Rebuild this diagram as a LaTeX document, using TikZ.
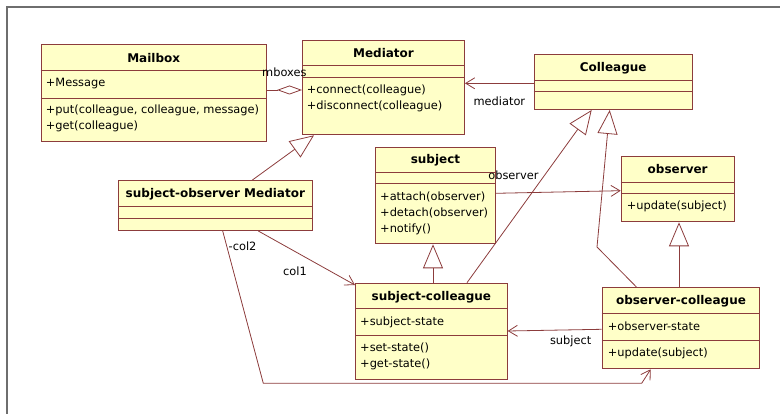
\documentclass[tikz,border=0pt]{standalone}
\usepackage{fontspec}
\setmainfont{DejaVu Sans}
\usetikzlibrary{arrows.meta}
\definecolor{classfill}{HTML}{FFFFC8}
\definecolor{classline}{HTML}{8C3C3C}
\definecolor{framegray}{HTML}{6E6E6E}

\begin{document}
\begin{tikzpicture}[x=1pt, y=-1pt, font=\fontsize{11.4}{16}\selectfont,
  classbox/.style={draw=classline, fill=classfill, line width=1pt, anchor=north west, inner sep=0pt},
  sepline/.style={draw=classline, line width=1pt},
  title/.style={font=\fontsize{12}{16}\selectfont\bfseries, inner sep=0pt, text height=8.8pt, text depth=0pt},
  member/.style={anchor=west, align=left, inner sep=0pt},
  lbl/.style={inner sep=0pt},
  link/.style={draw=classline, line width=0.8pt},
  navig/.style={link, -{Straight Barb[length=9pt, width=11pt]}},
  inherit/.style={link, -{Triangle[open, length=24pt, width=20pt]}},
  aggreg/.style={link, -{Diamond[open, length=25pt, width=9pt]}}]
  \useasboundingbox (0,0) rectangle (780,414);
  \draw[framegray, line width=2pt] (7,414) -- (7,7) -- (780,7);

  % Mailbox
  \node[classbox, minimum width=225pt, minimum height=97pt] (mailbox) at (40.7,44.3) {};
  \draw[sepline] ([yshift=-26.7pt]mailbox.north west) -- ([yshift=-26.7pt]mailbox.north east);
  \draw[sepline] ([yshift=-54pt]mailbox.north west) -- ([yshift=-54pt]mailbox.north east);
  \node[title] (mailbox-name) at ([yshift=-13.4pt]mailbox.north) {Mailbox};
  \node[member] (mailbox-attr) at ([xshift=5pt, yshift=-39.7pt]mailbox.north west) {+Message};
  \node[member] (mailbox-ops) at ([xshift=5pt, yshift=-74.5pt]mailbox.north west) {+put(colleague, colleague, message)\\+get(colleague)};

  % Mediator
  \node[classbox, minimum width=162pt, minimum height=94.3pt] (mediator) at (302,40) {};
  \draw[sepline] ([yshift=-26pt]mediator.north west) -- ([yshift=-26pt]mediator.north east);
  \draw[sepline] ([yshift=-37.3pt]mediator.north west) -- ([yshift=-37.3pt]mediator.north east);
  \node[title] (mediator-name) at ([yshift=-13pt]mediator.north) {Mediator};
  \node[member] (mediator-ops) at ([xshift=4.7pt, yshift=-58pt]mediator.north west) {+connect(colleague)\\+disconnect(colleague)};

  % Colleague
  \node[classbox, minimum width=158pt, minimum height=55pt] (colleague) at (533.7,54) {};
  \draw[sepline] ([yshift=-27pt]colleague.north west) -- ([yshift=-27pt]colleague.north east);
  \draw[sepline] ([yshift=-37.7pt]colleague.north west) -- ([yshift=-37.7pt]colleague.north east);
  \node[title] (colleague-name) at ([yshift=-13pt]colleague.north) {Colleague};

  % subject-observer Mediator
  \node[classbox, minimum width=193.7pt, minimum height=49.7pt] (somed) at (118,180.3) {};
  \draw[sepline] ([yshift=-26.4pt]somed.north west) -- ([yshift=-26.4pt]somed.north east);
  \draw[sepline] ([yshift=-38pt]somed.north west) -- ([yshift=-38pt]somed.north east);
  \node[title] (somed-name) at ([yshift=-12.7pt]somed.north) {subject-observer Mediator};

  % subject
  \node[classbox, minimum width=120pt, minimum height=96.6pt] (subject) at (375,146.7) {};
  \draw[sepline] ([yshift=-26pt]subject.north west) -- ([yshift=-26pt]subject.north east);
  \draw[sepline] ([yshift=-37.3pt]subject.north west) -- ([yshift=-37.3pt]subject.north east);
  \node[title] (subject-name) at ([yshift=-12.6pt]subject.north) {subject};
  \node[member] (subject-ops) at ([xshift=5pt, yshift=-66.6pt]subject.north west) {+attach(observer)\\+detach(observer)\\+notify()};

  % observer
  \node[classbox, minimum width=113pt, minimum height=65.6pt] (observer) at (620.7,155.7) {};
  \draw[sepline] ([yshift=-26.6pt]observer.north west) -- ([yshift=-26.6pt]observer.north east);
  \draw[sepline] ([yshift=-37.6pt]observer.north west) -- ([yshift=-37.6pt]observer.north east);
  \node[title] (observer-name) at ([yshift=-13.3pt]observer.north) {observer};
  \node[member] (observer-ops) at ([xshift=6pt, yshift=-51pt]observer.north west) {+update(subject)};

  % subject-colleague
  \node[classbox, minimum width=151.7pt, minimum height=96.3pt] (subjcol) at (355,282.7) {};
  \draw[sepline] ([yshift=-26.3pt]subjcol.north west) -- ([yshift=-26.3pt]subjcol.north east);
  \draw[sepline] ([yshift=-53pt]subjcol.north west) -- ([yshift=-53pt]subjcol.north east);
  \node[title] (subjcol-name) at ([yshift=-13pt]subjcol.north) {subject-colleague};
  \node[member] (subjcol-attr) at ([xshift=5pt, yshift=-40pt]subjcol.north west) {+subject-state};
  \node[member] (subjcol-ops) at ([xshift=5pt, yshift=-73.6pt]subjcol.north west) {+set-state()\\+get-state()};

  % observer-colleague
  \node[classbox, minimum width=157.6pt, minimum height=81pt] (obscol) at (601.7,287.3) {};
  \draw[sepline] ([yshift=-26pt]obscol.north west) -- ([yshift=-26pt]obscol.north east);
  \draw[sepline] ([yshift=-53pt]obscol.north west) -- ([yshift=-53pt]obscol.north east);
  \node[title] (obscol-name) at ([yshift=-12.7pt]obscol.north) {observer-colleague};
  \node[member] (obscol-attr) at ([xshift=6pt, yshift=-39.4pt]obscol.north west) {+observer-state};
  \node[member] (obscol-ops) at ([xshift=6pt, yshift=-66pt]obscol.north west) {+update(subject)};

  % links
  \draw[aggreg] ([yshift=-45.7pt]mailbox.north east) -- node[lbl, yshift=17.5pt] (mboxes-lbl) {mboxes} ([yshift=-50pt]mediator.north west);
  \draw[inherit] ([xshift=134pt]somed.north west) -- ([xshift=12pt]mediator.south west);
  \draw[navig] ([yshift=-29.3pt]colleague.north west) -- node[lbl, yshift=-17.7pt] (mediator-lbl) {mediator} ([yshift=-43.3pt]mediator.north east);
  \draw[navig] ([yshift=-46.6pt]subject.north east) -- node[lbl, pos=0.14, yshift=17.9pt] (observer-lbl) {observer} ([yshift=-35pt]observer.north west);
  \draw[inherit] ([xshift=78pt]subjcol.north west) -- ([xshift=58pt]subject.south west);
  \draw[inherit] ([xshift=112pt]subjcol.north west) -- ([xshift=58pt]colleague.south west);
  \coordinate (obscol-bend) at (597,247);
  \draw[inherit] ([xshift=35pt]obscol.north west) -- (obscol-bend) -- ([xshift=76pt]colleague.south west);
  \draw[inherit] ([xshift=77.3pt]obscol.north west) -- ([xshift=58.3pt]observer.south west);
  \draw[navig] ([yshift=-42pt]obscol.north west) -- node[lbl, pos=0.33, yshift=-11pt] (subject-lbl) {subject} ([yshift=-48.3pt]subjcol.north east);
  \draw[navig] ([xshift=140.3pt]somed.south west) -- node[lbl, pos=0.38, yshift=-20pt] (col1-lbl) {col1} ([yshift=-2.3pt]subjcol.north west);
  \coordinate (col2-low) at (263.3,383.3);
  \coordinate (col2-right) at (641.7,383.3);
  \draw[navig] ([xshift=104.7pt]somed.south west) -- node[lbl, pos=0.1, anchor=west, xshift=1.5pt] (col2-lbl) {-col2} (col2-low) -- (col2-right) -- ([xshift=49pt]obscol.south west);
\end{tikzpicture}
\end{document}
